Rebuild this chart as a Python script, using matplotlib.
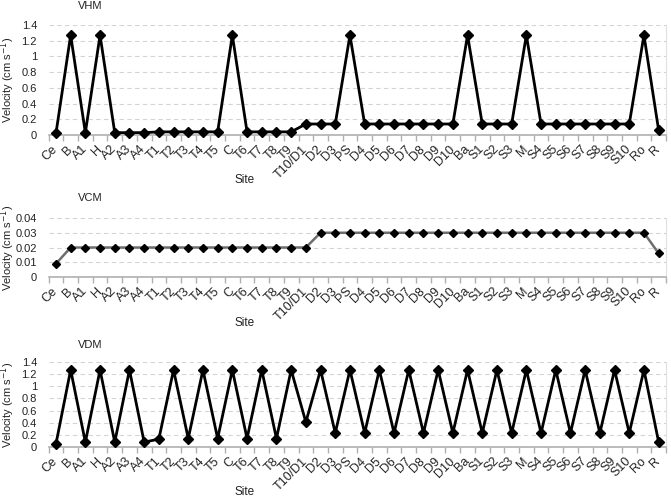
import matplotlib.pyplot as plt
import numpy as np
from matplotlib.ticker import FuncFormatter

plt.rcParams['font.family'] = ['Liberation Sans', 'DejaVu Sans']

sites = ["Ce", "B", "A1", "H", "A2", "A3", "A4", "T1", "T2", "T3", "T4", "T5",
         "C", "T6", "T7", "T8", "T9", "T10/D1", "D2", "D3", "PS", "D4", "D5",
         "D6", "D7", "D8", "D9", "D10", "Ba", "S1", "S2", "S3", "M", "S4", "S5",
         "S6", "S7", "S8", "S9", "S10", "Ro", "R"]

vhm = [0.02, 1.27, 0.03, 1.27, 0.03, 0.03, 0.03, 0.04, 0.04, 0.04, 0.04, 0.04,
       1.27, 0.04, 0.04, 0.04, 0.04, 0.14, 0.14, 0.14, 1.27, 0.14, 0.14,
       0.14, 0.14, 0.14, 0.14, 0.14, 1.27, 0.14, 0.14, 0.14, 1.27, 0.14, 0.14,
       0.14, 0.14, 0.14, 0.14, 0.14, 1.27, 0.06]

vcm = [0.009, 0.02, 0.02, 0.02, 0.02, 0.02, 0.02, 0.02, 0.02, 0.02, 0.02, 0.02,
       0.02, 0.02, 0.02, 0.02, 0.02, 0.02, 0.03, 0.03, 0.03, 0.03, 0.03,
       0.03, 0.03, 0.03, 0.03, 0.03, 0.03, 0.03, 0.03, 0.03, 0.03, 0.03, 0.03,
       0.03, 0.03, 0.03, 0.03, 0.03, 0.03, 0.016]

vdm = [0.05, 1.27, 0.08, 1.27, 0.08, 1.27, 0.08, 0.13, 1.27, 0.14, 1.27, 0.14,
       1.27, 0.14, 1.27, 0.14, 1.27, 0.41, 1.27, 0.23, 1.27, 0.23, 1.27,
       0.23, 1.27, 0.23, 1.27, 0.23, 1.27, 0.23, 1.27, 0.23, 1.27, 0.23, 1.27,
       0.23, 1.27, 0.23, 1.27, 0.23, 1.27, 0.08]

W, H = 671, 499
fig = plt.figure(figsize=(W / 100, H / 100), dpi=100)

# name, values, top px, bottom px, ymax, ystep, line colour, marker size, lw, title y, site y
panels = [
    ("VHM", vhm, 25, 135, 1.4, 0.2, "black", 5.5, 2.0, 6, 180),
    ("VCM", vcm, 218, 277, 0.04, 0.01, "#6e6e6e", 4.5, 1.8, 198, 323),
    ("VDM", vdm, 362, 447, 1.4, 0.2, "black", 5.5, 2.0, 345, 492),
]

x = np.arange(len(sites))
left, right = 48.6, 666

for name, vals, top, bot, ymax, step, col, ms, lw, ty, sy in panels:
    ax = fig.add_axes([left / W, 1 - bot / H, (right - left) / W, (bot - top) / H])
    ax.plot(x, vals, color=col, lw=lw, marker="D", ms=ms,
            mfc="black", mec="black", zorder=3, clip_on=False)
    ax.set_xlim(-0.5, len(sites) - 0.5)
    ax.set_ylim(0, ymax)
    ax.set_yticks(np.arange(0, ymax + step / 2, step))
    ax.yaxis.set_major_formatter(FuncFormatter(lambda v, p: "%g" % round(v, 4)))
    ax.grid(axis="y", color="#d4d4d4", linestyle=(0, (4, 3)), lw=0.8)
    ax.set_axisbelow(True)
    for s in ["left", "top"]:
        ax.spines[s].set_visible(False)
    ax.spines["right"].set_color("#e0e0e0")
    ax.spines["bottom"].set_color("#b0b0b0")
    ax.spines["bottom"].set_linewidth(1.2)
    ax.tick_params(axis="y", length=0, labelsize=8, pad=8.3, colors="#222222")
    ax.set_xticks(x)
    ax.set_xticklabels(sites, rotation=45, ha="right", va="center",
                       rotation_mode="anchor", fontsize=9, color="#222222")
    ax.set_xticks(np.arange(-0.5, len(sites), 1), minor=True)
    ax.tick_params(axis="x", which="major", length=0, pad=9)
    ax.tick_params(axis="x", which="minor", length=4, color="#b0b0b0", width=1)

    fig.text(90 / W, 1 - ty / H, name, fontsize=8, ha="center", va="center",
             color="#222222")
    fig.text(245 / W, 1 - sy / H, "Site", fontsize=8.5, ha="center", va="center",
             color="#222222")
    fig.text(8 / W, 1 - (top + bot) / 2 / H, "Velocity (cm s$^{-1}$)", fontsize=8,
             rotation=90, ha="center", va="center", color="#222222")

fig.savefig("out.png", dpi=100)
